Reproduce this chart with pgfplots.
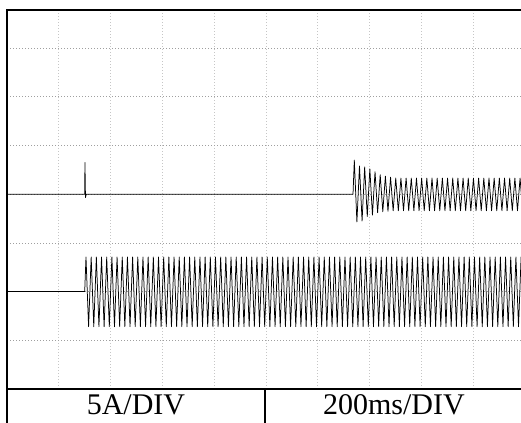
\documentclass[border=0pt]{standalone}
\usepackage{pgfplots}
\pgfplotsset{compat=1.18}
\usepackage{fontspec}
\setmainfont{Liberation Serif}
\usetikzlibrary{calc}

\begin{document}
\begin{tikzpicture}
\begin{axis}[
  scale only axis, width=514pt, height=379pt,
  xmin=0, xmax=9.923, ymin=0, ymax=7.782,
  axis line style={draw=none},
  xtick={1,...,9}, ytick={1,...,7},
  xticklabels={}, yticklabels={},
  major tick length=0pt,
  grid=major,
  major x grid style={gray!45, line width=0.6pt, dash pattern=on 1pt off 2pt},
  major y grid style={gray!75, line width=0.6pt, dash pattern=on 1pt off 2pt},
  clip=true,
]
% channel 1: switching transient, then oscillation after the fault
\addplot[black, line width=0.75pt, line join=round, mark=none] coordinates {
(0,4.0) (1.500,4.0) (1.505,4.65) (1.515,3.93) (1.530,4.0) (6.680,4.0)
(6.705,4.70) (6.755,3.43) (6.805,4.58) (6.855,3.45) (6.905,4.56) (6.955,3.54)
(7.005,4.52) (7.055,3.57) (7.105,4.46) (7.155,3.62) (7.205,4.40) (7.255,3.64) (7.305,4.37) (7.355,3.65) (7.405,4.35) (7.455,3.66)
(7.505,4.33) (7.555,3.66) (7.605,4.33) (7.655,3.66) (7.705,4.33) (7.755,3.66) (7.805,4.33) (7.855,3.66) (7.905,4.33) (7.955,3.66)
(8.005,4.33) (8.055,3.66) (8.105,4.33) (8.155,3.66) (8.205,4.33) (8.255,3.66) (8.305,4.33) (8.355,3.66) (8.405,4.33) (8.455,3.66)
(8.505,4.33) (8.555,3.66) (8.605,4.33) (8.655,3.66) (8.705,4.33) (8.755,3.66) (8.805,4.33) (8.855,3.66) (8.905,4.33) (8.955,3.66)
(9.005,4.33) (9.055,3.66) (9.105,4.33) (9.155,3.66) (9.205,4.33) (9.255,3.66) (9.305,4.33) (9.355,3.66) (9.405,4.33) (9.455,3.66)
(9.505,4.33) (9.555,3.66) (9.605,4.33) (9.655,3.66) (9.705,4.33) (9.755,3.66) (9.805,4.33) (9.855,3.66) (9.905,4.33) (9.955,3.66)
(10.005,4.33)
};
% channel 2: load current, 50 Hz
\addplot[black, line width=0.75pt, line join=round, mark=none] coordinates {
(0,2.0) (1.500,2.0)
(1.525,2.71) (1.575,1.28) (1.625,2.71) (1.675,1.28) (1.725,2.71) (1.775,1.28) (1.825,2.71) (1.875,1.28) (1.925,2.71) (1.975,1.28)
(2.025,2.71) (2.075,1.28) (2.125,2.71) (2.175,1.28) (2.225,2.71) (2.275,1.28) (2.325,2.71) (2.375,1.28) (2.425,2.71) (2.475,1.28)
(2.525,2.71) (2.575,1.28) (2.625,2.71) (2.675,1.28) (2.725,2.71) (2.775,1.28) (2.825,2.71) (2.875,1.28) (2.925,2.71) (2.975,1.28)
(3.025,2.71) (3.075,1.28) (3.125,2.71) (3.175,1.28) (3.225,2.71) (3.275,1.28) (3.325,2.71) (3.375,1.28) (3.425,2.71) (3.475,1.28)
(3.525,2.71) (3.575,1.28) (3.625,2.71) (3.675,1.28) (3.725,2.71) (3.775,1.28) (3.825,2.71) (3.875,1.28) (3.925,2.71) (3.975,1.28)
(4.025,2.71) (4.075,1.28) (4.125,2.71) (4.175,1.28) (4.225,2.71) (4.275,1.28) (4.325,2.71) (4.375,1.28) (4.425,2.71) (4.475,1.28)
(4.525,2.71) (4.575,1.28) (4.625,2.71) (4.675,1.28) (4.725,2.71) (4.775,1.28) (4.825,2.71) (4.875,1.28) (4.925,2.71) (4.975,1.28)
(5.025,2.71) (5.075,1.28) (5.125,2.71) (5.175,1.28) (5.225,2.71) (5.275,1.28) (5.325,2.71) (5.375,1.28) (5.425,2.71) (5.475,1.28)
(5.525,2.71) (5.575,1.28) (5.625,2.71) (5.675,1.28) (5.725,2.71) (5.775,1.28) (5.825,2.71) (5.875,1.28) (5.925,2.71) (5.975,1.28)
(6.025,2.71) (6.075,1.28) (6.125,2.71) (6.175,1.28) (6.225,2.71) (6.275,1.28) (6.325,2.71) (6.375,1.28) (6.425,2.71) (6.475,1.28)
(6.525,2.71) (6.575,1.28) (6.625,2.71) (6.675,1.28) (6.725,2.71) (6.775,1.28) (6.825,2.71) (6.875,1.28) (6.925,2.71) (6.975,1.28)
(7.025,2.71) (7.075,1.28) (7.125,2.71) (7.175,1.28) (7.225,2.71) (7.275,1.28) (7.325,2.71) (7.375,1.28) (7.425,2.71) (7.475,1.28)
(7.525,2.71) (7.575,1.28) (7.625,2.71) (7.675,1.28) (7.725,2.71) (7.775,1.28) (7.825,2.71) (7.875,1.28) (7.925,2.71) (7.975,1.28)
(8.025,2.71) (8.075,1.28) (8.125,2.71) (8.175,1.28) (8.225,2.71) (8.275,1.28) (8.325,2.71) (8.375,1.28) (8.425,2.71) (8.475,1.28)
(8.525,2.71) (8.575,1.28) (8.625,2.71) (8.675,1.28) (8.725,2.71) (8.775,1.28) (8.825,2.71) (8.875,1.28) (8.925,2.71) (8.975,1.28)
(9.025,2.71) (9.075,1.28) (9.125,2.71) (9.175,1.28) (9.225,2.71) (9.275,1.28) (9.325,2.71) (9.375,1.28) (9.425,2.71) (9.475,1.28)
(9.525,2.71) (9.575,1.28) (9.625,2.71) (9.675,1.28) (9.725,2.71) (9.775,1.28) (9.825,2.71) (9.875,1.28) (9.925,2.71) (9.975,1.28)
(10.025,2.71)
};
\coordinate (SW) at (rel axis cs:0,0);
\coordinate (NE) at (rel axis cs:1,1);
\coordinate (MID) at (axis cs:4.98,0);
\coordinate (LA) at (axis cs:2.49,0);
\coordinate (LB) at (axis cs:7.47,0);
\end{axis}
\pgfresetboundingbox
\path[use as bounding box] ($(SW)+(-7pt,-34pt)$) rectangle ($(NE)+(0,10pt)$);
% frame and scale table
\draw[line width=1.3pt] ($(SW)+(0,-40pt)$) |- (NE);
\draw[line width=1.3pt] (SW) -- (SW -| NE);
\draw[line width=1.3pt] (MID) -- ($(MID)+(0,-40pt)$);
\node[anchor=base, inner sep=0pt] at ($(LA)+(0,-26pt)$) {\fontsize{30}{32}\selectfont 5A/DIV};
\node[anchor=base, inner sep=0pt] at ($(LB)+(0,-26pt)$) {\fontsize{30}{32}\selectfont 200ms/DIV};
\end{tikzpicture}
\end{document}
